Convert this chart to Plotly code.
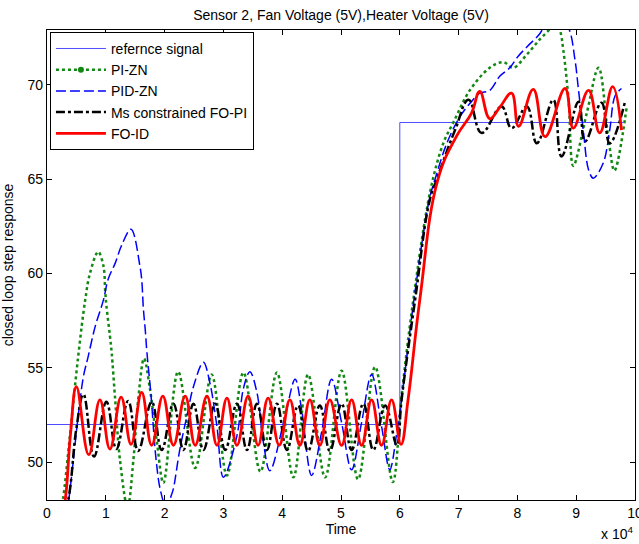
import plotly.graph_objects as go

# Time axis in units of 1e4
ref_t = [0.0, 6.0, 6.0, 9.8]
ref_y = [52.0, 52.0, 68.0, 68.0]

pi_t = [0.18, 0.27, 0.39, 0.53, 0.65, 0.73, 0.87, 0.96, 0.99, 1.01, 1.07, 1.10, 1.16, 1.24, 1.37,
        1.47, 1.55, 1.65, 1.75, 1.87, 1.98, 2.23, 2.52, 2.80, 3.06, 3.34, 3.63, 3.91, 4.19, 4.44,
        4.73, 5.01, 5.29, 5.58, 5.88, 6.03, 6.23, 6.52, 6.74, 6.91, 7.19, 7.53, 7.76, 7.93, 8.16,
        8.38, 8.55, 8.63, 8.72, 8.78, 8.87, 8.95, 9.18, 9.38, 9.55, 9.65, 9.86]
pi_y = [46.5, 48.0, 51.4, 55.6, 58.6, 60.0, 61.15, 60.4, 59.05, 58.3, 56.7, 55.8, 53.3, 50.15, 47.6,
        50.15, 53.3, 55.5, 53.9, 51.05, 48.9, 54.8, 49.7, 54.65, 49.3, 54.75, 49.5, 54.75, 49.2, 54.65,
        49.2, 54.85, 49.1, 55.05, 48.95, 53.5, 58.6, 64.4, 66.9, 68.0, 69.7, 70.9, 71.2, 70.9, 71.6,
        72.4, 72.95, 73.3, 72.9, 71.85, 69.2, 65.7, 68.5, 70.9, 67.1, 65.45, 68.85]

pid_t = [0.30, 0.37, 0.45, 0.53, 0.62, 0.70, 0.82, 0.96, 1.04, 1.16, 1.27, 1.43, 1.58, 1.61, 1.64,
         1.67, 1.70, 1.77, 1.85, 1.93, 2.03, 2.12, 2.15, 2.26, 2.38, 2.49, 2.66, 2.77, 2.89, 3.00,
         3.23, 3.34, 3.45, 3.57, 3.68, 3.79, 4.05, 4.22, 4.33, 4.50, 4.67, 4.84, 5.01, 5.18, 5.35,
         5.52, 5.69, 5.83, 5.95, 6.03, 6.24, 6.50, 6.60, 6.80, 7.02, 7.19, 7.36, 7.53, 7.70, 7.87,
         8.01, 8.16, 8.38, 8.50, 8.70, 8.87, 8.98, 9.04, 9.12, 9.21, 9.29, 9.46, 9.57, 9.66, 9.77]
pid_y = [46.5, 48.0, 50.15, 52.45, 54.55, 55.6, 57.2, 58.6, 59.7, 60.55, 61.5, 62.35, 60.4, 59.7, 58.1,
         57.05, 55.8, 53.5, 50.3, 48.5, 47.6, 48.3, 48.6, 50.7, 52.45, 54.0, 55.3, 54.2, 51.9, 49.2,
         51.4, 53.9, 54.8, 53.7, 51.05, 49.55, 52.45, 54.4, 52.8, 49.3, 51.6, 54.4, 52.1, 49.6, 52.1,
         54.65, 51.9, 49.6, 51.6, 53.3, 58.6, 63.9, 65.0, 66.9, 68.3, 69.0, 69.55, 69.7, 70.45, 70.9,
         71.5, 72.0, 72.7, 73.3, 73.6, 73.0, 71.3, 69.7, 67.6, 65.5, 65.05, 65.85, 67.6, 69.4, 69.8]

fopi_t = [0.22, 0.36, 0.50, 0.62, 0.80, 1.01, 1.18, 1.38, 1.55, 1.78, 1.95, 2.15, 2.32, 2.49, 2.66,
          2.86, 3.03, 3.23, 3.40, 3.57, 3.74, 3.91, 4.08, 4.27, 4.44, 4.64, 4.81, 5.01, 5.18, 5.38,
          5.55, 5.75, 5.95, 6.03, 6.26, 6.51, 6.63, 6.94, 7.17, 7.39, 7.73, 7.90, 8.16, 8.33, 8.61,
          8.75, 9.04, 9.15, 9.43, 9.57, 9.83]
fopi_y = [46.5, 48.0, 51.8, 53.6, 50.3, 53.2, 50.7, 53.25, 50.6, 53.2, 50.65, 53.1, 50.65, 53.1, 50.65,
          53.1, 50.65, 53.1, 50.65, 53.1, 50.65, 53.1, 50.65, 53.0, 50.6, 53.0, 50.6, 53.1, 50.65, 53.1,
          50.65, 53.0, 50.9, 53.3, 58.6, 63.9, 65.0, 67.6, 69.2, 67.45, 68.85, 67.7, 68.85, 66.9, 69.2,
          66.2, 69.1, 67.0, 69.05, 66.9, 69.1]

foid_t = [0.22, 0.31, 0.40, 0.50, 0.71, 0.90, 1.07, 1.26, 1.43, 1.61, 1.78, 1.97, 2.15, 2.35, 2.52,
          2.72, 2.89, 3.06, 3.23, 3.42, 3.59, 3.76, 3.95, 4.13, 4.30, 4.47, 4.64, 4.81, 5.01, 5.18,
          5.35, 5.52, 5.69, 5.86, 6.02, 6.14, 6.34, 6.65, 6.97, 7.22, 7.36, 7.53, 7.70, 7.90, 8.02,
          8.27, 8.47, 8.81, 8.95, 9.21, 9.40, 9.62, 9.77]
foid_y = [46.5, 48.0, 51.5, 54.0, 50.4, 53.3, 50.7, 53.45, 50.95, 53.7, 50.9, 53.5, 50.9, 53.5, 50.9,
          53.5, 50.9, 53.4, 50.9, 53.5, 50.9, 53.4, 50.9, 53.3, 50.9, 53.3, 50.9, 53.3, 50.9, 53.3,
          50.9, 53.3, 50.9, 53.3, 50.95, 53.3, 58.6, 65.0, 67.3, 68.5, 69.65, 68.2, 68.8, 69.55, 67.8,
          69.75, 67.25, 69.8, 67.7, 69.7, 67.45, 69.9, 67.6]

x_ticks = [0, 1, 2, 3, 4, 5, 6, 7, 8, 9, 10]
y_ticks = [50, 55, 60, 65, 70]

FONT = "Liberation Sans, Arial, Helvetica, sans-serif"
GREEN = "#118811"

fig = go.Figure()
fig.add_trace(go.Scatter(x=ref_t, y=ref_y, mode="lines", name="refernce signal",
                         line=dict(color="#4d4dff", width=1)))
fig.add_trace(go.Scatter(x=pi_t, y=pi_y, mode="lines", name="PI-ZN", showlegend=False,
                         line=dict(color=GREEN, width=2.5, dash="dot", shape="spline", smoothing=1.0)))
fig.add_trace(go.Scatter(x=[None], y=[None], mode="lines+markers", name="PI-ZN",
                         line=dict(color=GREEN, width=2.5, dash="dot"),
                         marker=dict(color=GREEN, size=6)))
fig.add_trace(go.Scatter(x=pid_t, y=pid_y, mode="lines", name="PID-ZN",
                         line=dict(color="#0000ff", width=1.5, dash="10px,4px", shape="spline", smoothing=1.0)))
fig.add_trace(go.Scatter(x=fopi_t, y=fopi_y, mode="lines", name="Ms constrained FO-PI",
                         line=dict(color="#000000", width=2.5, dash="dashdot", shape="spline", smoothing=1.2)))
fig.add_trace(go.Scatter(x=foid_t, y=foid_y, mode="lines", name="FO-ID",
                         line=dict(color="#ff0000", width=2.8, shape="spline", smoothing=1.2)))

axis_common = dict(showgrid=False, zeroline=False, showline=True, linecolor="black", linewidth=1.2,
                   mirror="ticks", ticks="inside", ticklen=5, tickcolor="black",
                   ticklabeloverflow="allow", automargin=False,
                   tickfont=dict(family=FONT, size=14, color="black"))

fig.update_layout(
    width=639, height=544,
    margin=dict(l=47, r=4, t=30, b=44, autoexpand=False),
    paper_bgcolor="white", plot_bgcolor="white",
    font=dict(family=FONT, size=14, color="black"),
    title=dict(text="Sensor 2, Fan Voltage (5V),Heater Voltage (5V)", x=0.5, xref="paper",
               y=1 - 15 / 544, yref="container", yanchor="middle", xanchor="center",
               font=dict(family=FONT, size=14, color="black")),
    xaxis=dict(range=[0, 10], tickvals=x_ticks, ticktext=[str(v) for v in x_ticks],
               title=dict(text="Time", standoff=4, font=dict(family=FONT, size=14)), **axis_common),
    yaxis=dict(range=[48, 72.9], tickvals=y_ticks, ticktext=[str(v) for v in y_ticks],
               title=dict(text="closed loop step response", standoff=10, font=dict(family=FONT, size=14)),
               **axis_common),
    legend=dict(x=0.005, y=0.996, xanchor="left", yanchor="top", bgcolor="white",
                bordercolor="black", borderwidth=1, font=dict(family=FONT, size=14, color="black"),
                itemwidth=50, tracegroupgap=0),
    showlegend=True,
)

fig.add_annotation(text="x 10<sup>4</sup>", xref="paper", yref="paper", x=1.0, y=-33 / 470,
                   xanchor="right", yanchor="middle", showarrow=False,
                   font=dict(family=FONT, size=14, color="black"))

fig.write_html("out.html")
